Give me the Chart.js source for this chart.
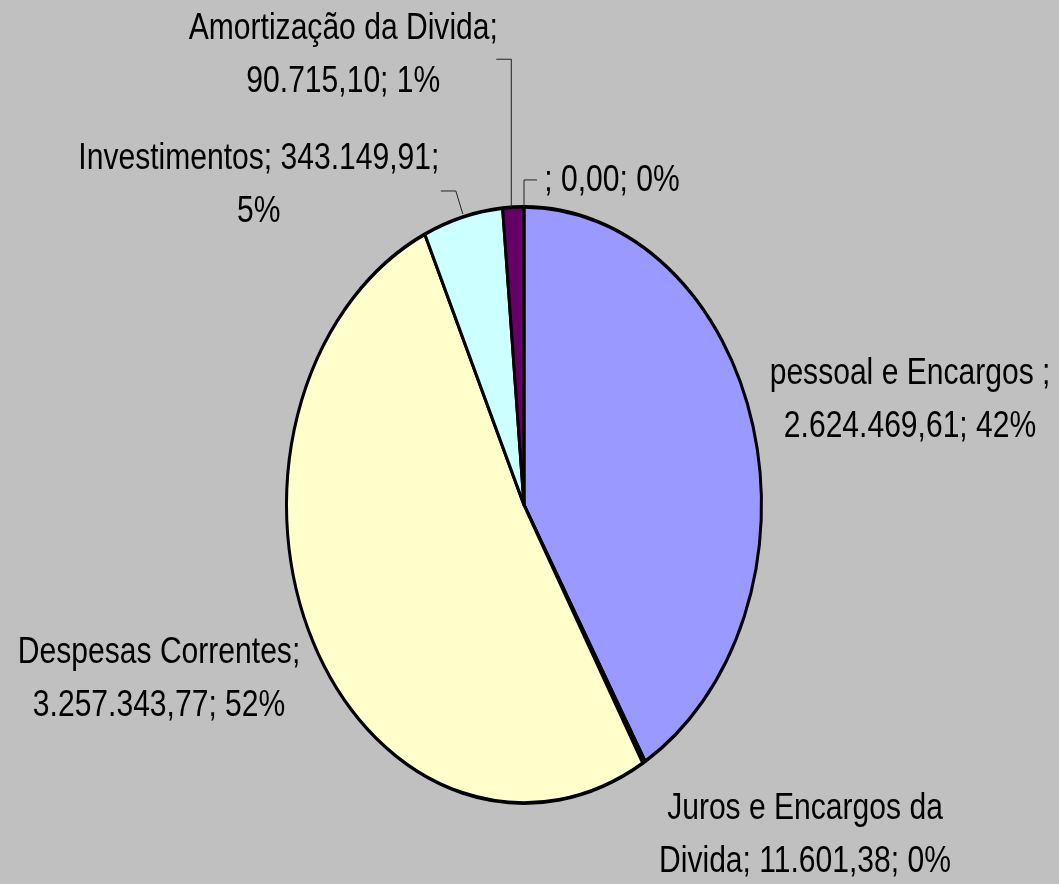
<!DOCTYPE html>
<html>
<head>
<meta charset="utf-8">
<script src="https://cdn.jsdelivr.net/npm/chart.js@4/dist/chart.umd.min.js"></script>
<style>
  html, body { margin: 0; padding: 0; background: #c0c0c0; }
  #wrap { width: 1059px; height: 884px; }
</style>
</head>
<body>
<div id="wrap"><canvas id="pieChart"></canvas></div>
<script>
// dados da despesa
const categorias = ['pessoal e Encargos ', 'Juros e Encargos da Divida', 'Despesas Correntes', 'Investimentos', 'Amortização da Divida', ''];
const valores = [2624469.61, 11601.38, 3257343.77, 343149.91, 90715.10, 0.00];
const cores = ['#9999ff', '#993366', '#ffffcc', '#ccffff', '#660066', '#ffffff'];

// palavras na primeira linha de cada rotulo (quebra como no Excel)
const palavrasLinha1 = [4, 4, 2, 2, 3, 99];

const RATIO = 1.255;   // pizza esticada na vertical
const NARROW = 0.835;  // imita Arial Narrow

function fmtNum(v) {
  const [i, d] = v.toFixed(2).split('.');
  return i.replace(/\B(?=(\d{3})+(?!\d))/g, '.') + ',' + d;
}

// percentuais com maior resto (soma 100), igual ao Excel
function percentuais(vals) {
  const total = vals.reduce((a, b) => a + b, 0);
  const raw = vals.map(v => v / total * 100);
  const base = raw.map(Math.floor);
  const falta = 100 - base.reduce((a, b) => a + b, 0);
  const ordem = raw.map((r, i) => [r - Math.floor(r), i]).sort((a, b) => b[0] - a[0]);
  for (let k = 0; k < falta; k++) base[ordem[k][1]] += 1;
  return base;
}
const pcts = percentuais(valores);

const ellipsePlugin = {
  id: 'ellipse',
  beforeDatasetsDraw(chart) {
    const arc = chart.getDatasetMeta(0).data[0];
    const ctx = chart.ctx;
    ctx.save();
    ctx.translate(arc.x, arc.y);
    ctx.scale(1, RATIO);
    ctx.translate(-arc.x, -arc.y);
  },
  afterDatasetsDraw(chart) {
    chart.ctx.restore();
  }
};

const labelPlugin = {
  id: 'excelLabels',
  afterDraw(chart, args, opts) {
    const ctx = chart.ctx;
    const meta = chart.getDatasetMeta(0);
    ctx.save();
    ctx.font = opts.font;
    ctx.fillStyle = '#000';
    ctx.textAlign = 'center';
    ctx.textBaseline = 'middle';
    meta.data.forEach((arc, i) => {
      const mid = (arc.startAngle + arc.endAngle) / 2;
      const px = arc.x + Math.cos(mid) * arc.outerRadius;
      const py = arc.y + Math.sin(mid) * arc.outerRadius * RATIO;
      const pos = opts.pos[i];

      if (pos.leader) {
        ctx.strokeStyle = '#222';
        ctx.lineWidth = 1;
        ctx.beginPath();
        pos.leader.forEach(([lx, ly], k) => {
          if (k === 0) ctx.moveTo(px + lx, py + ly);
          else ctx.lineTo(px + lx, py + ly);
        });
        ctx.stroke();
      }

      const texto = categorias[i] + '; ' + fmtNum(valores[i]) + '; ' + pcts[i] + '%';
      const words = texto.trim().split(/\s+/);
      const n = palavrasLinha1[i];
      const linhas = [words.slice(0, n).join(' ')];
      if (words.length > n) linhas.push(words.slice(n).join(' '));
      const cx = px + pos.dx;
      const cy = py + pos.dy;
      const lh = opts.lineHeight;
      linhas.forEach((l, k) => {
        ctx.save();
        ctx.translate(cx, cy + (k - (linhas.length - 1) / 2) * lh);
        ctx.scale(NARROW, 1);
        ctx.fillText(l, 0, 0);
        ctx.restore();
      });
    });
    ctx.restore();
  }
};

new Chart(document.getElementById('pieChart'), {
  type: 'pie',
  data: {
    labels: categorias,
    datasets: [{
      data: valores,
      backgroundColor: cores,
      borderColor: '#000',
      borderWidth: 3,
      clip: false
    }]
  },
  options: {
    responsive: true,
    maintainAspectRatio: false,
    animation: false,
    layout: { padding: { left: 285, right: 296, top: 266, bottom: 140 } },
    plugins: {
      legend: { display: false },
      tooltip: { enabled: false },
      excelLabels: {
        font: '36px "Liberation Sans", Arial, sans-serif',
        lineHeight: 53,
        pos: [
          { dx: 157, dy: -26 },
          { dx: 161, dy: 73 },
          { dx: -154, dy: 38 },
          { dx: -204, dy: -31, leader: [[0, -3], [-7, -26], [-22, -26]] },
          { dx: -170, dy: -152, leader: [[-2, 0], [-2, -148], [-17, -148]] },
          { dx: 88, dy: -26, leader: [[0, 0], [0, -27], [13, -27]] }
        ]
      }
    }
  },
  plugins: [ellipsePlugin, labelPlugin]
});
</script>
</body>
</html>
